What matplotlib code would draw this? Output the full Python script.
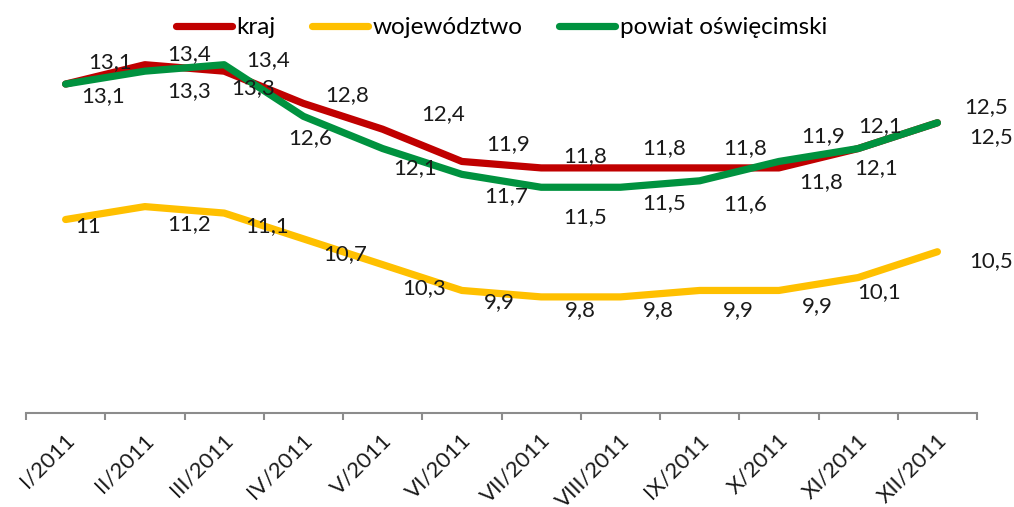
import matplotlib.pyplot as plt

plt.rcParams['font.family'] = ['Lato', 'DejaVu Sans']

# dane
miesiace = ["I/2011", "II/2011", "III/2011", "IV/2011", "V/2011", "VI/2011",
            "VII/2011", "VIII/2011", "IX/2011", "X/2011", "XI/2011", "XII/2011"]
kraj = [13.1, 13.4, 13.3, 12.8, 12.4, 11.9, 11.8, 11.8, 11.8, 11.8, 12.1, 12.5]
wojewodztwo = [11.0, 11.2, 11.1, 10.7, 10.3, 9.9, 9.8, 9.8, 9.9, 9.9, 10.1, 10.5]
powiat = [13.1, 13.3, 13.4, 12.6, 12.1, 11.7, 11.5, 11.5, 11.6, 11.9, 12.1, 12.5]

# przesuniecia etykiet w pikselach (x w prawo, y w gore)
off_kraj = [(44, 22), (44, 11), (29, -17), (44, 8), (60, 15), (46, 17),
            (44, 12), (44, 20), (45, 20), (42, -14), (18, -20), (49, 16)]
off_woj = [(22, -7), (44, -17), (43, -13), (42, -15), (41, -23), (37, -12),
           (39, -13), (38, -13), (39, -20), (38, -16), (21, -15), (54, -9)]
off_pow = [(37, -12), (44, -20), (44, 5), (7, -22), (32, -20), (44, -22),
           (44, -30), (44, -16), (45, -23), (44, 25), (22, 22), (54, -14)]

fig = plt.figure(figsize=(10.14, 5.07), dpi=100)
ax = fig.add_axes([0.02564, 0.1854, 0.9379, 0.7633])

x = list(range(len(miesiace)))
serie = [
    ("kraj", kraj, "#C00000", off_kraj),
    ("województwo", wojewodztwo, "#FFC000", off_woj),
    ("powiat oświęcimski", powiat, "#00923F", off_pow),
]
fs = 16
for nazwa, wart, kolor, off in serie:
    ax.plot(x, wart, color=kolor, lw=5.2, label=nazwa,
            solid_joinstyle="round", solid_capstyle="round")
for nazwa, wart, kolor, off in serie:
    for i, v in enumerate(wart):
        tekst = f"{v:g}".replace(".", ",")
        ax.annotate(tekst, xy=(i, v), xytext=off[i], textcoords="offset pixels",
                    ha="center", va="center", fontsize=fs, color="#1a1a1a")

ax.set_xlim(-0.5, len(miesiace) - 0.5)
ax.set_ylim(8, 14)
ax.set_yticks([])
for s in ["top", "right", "left"]:
    ax.spines[s].set_visible(False)
ax.spines["bottom"].set_color("#8c8c8c")
ax.spines["bottom"].set_linewidth(1.5)
ax.set_xticks([i - 0.5 for i in range(len(miesiace) + 1)])
ax.set_xticklabels([])
ax.tick_params(axis="x", direction="out", length=5, width=1.5, color="#8c8c8c")

for i, m in enumerate(miesiace):
    ax.annotate(m, xy=(i, 0), xycoords=("data", "axes fraction"),
                xytext=(6, -24), textcoords="offset pixels",
                rotation=45, ha="right", va="center", rotation_mode="anchor",
                fontsize=fs, color="#1a1a1a")

fig.legend(loc="center", bbox_to_anchor=(0.4946, 0.945), ncol=3, frameon=False,
           fontsize=17.5, handlelength=2.3, handletextpad=0.2, columnspacing=1.5)

fig.savefig("out.png", dpi=100)
